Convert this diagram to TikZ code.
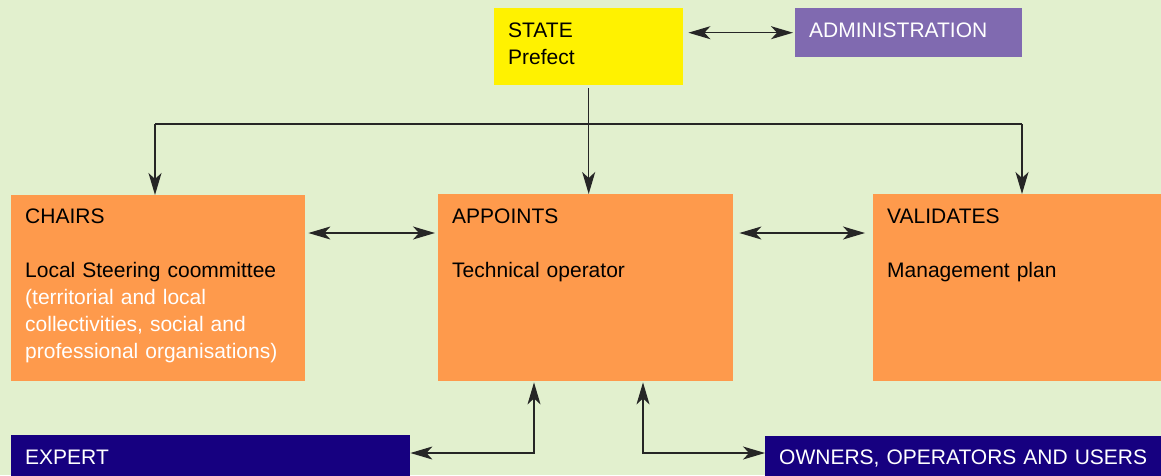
\documentclass[tikz,border=0pt]{standalone}
\usepackage{fontspec}
\setmainfont{Liberation Sans}
\usetikzlibrary{arrows.meta}
\definecolor{bgcol}{RGB}{226,240,206}
\definecolor{boxorange}{RGB}{254,154,76}
\definecolor{boxpurple}{RGB}{128,106,176}
\definecolor{boxnavy}{RGB}{22,0,128}
\tikzset{
  box/.style={anchor=north west,inner sep=0},
  boxtext/.style={anchor=base west,inner sep=0,align=left,text width=#1,font=\fontsize{21}{27}\selectfont},
  boxtext/.default=285pt,
  link/.style={draw=black!85,line width=1.3pt,>={Stealth[length=22pt,width=13pt,inset=6pt]}}
}
\begin{document}
\begin{tikzpicture}[x=1pt,y=-1pt]
\useasboundingbox (0,0) rectangle (1161,475);
\clip (0,0) rectangle (1161,475);
\fill[bgcol] (0,0) rectangle (1161,475);
\node[box,fill=yellow,minimum width=189pt,minimum height=77pt] (state) at (494,8) {};
\node[box,fill=boxpurple,minimum width=227pt,minimum height=49pt] (admin) at (795,8) {};
\node[box,fill=boxorange,minimum width=294pt,minimum height=186pt] (chairs) at (11,195) {};
\node[box,fill=boxorange,minimum width=295pt,minimum height=187pt] (appoints) at (438,194) {};
\node[box,fill=boxorange,minimum width=294pt,minimum height=187pt] (validates) at (873,194) {};
\node[box,fill=boxnavy,minimum width=399pt,minimum height=50pt] (expert) at (11,435) {};
\node[box,fill=boxnavy,minimum width=399pt,minimum height=50pt] (owners) at (765,436) {};
\node[boxtext] (statetxt) at ([xshift=14pt,yshift=-29pt]state.north west) {STATE\\Prefect};
\node[boxtext,text=white] (admintxt) at ([xshift=14pt,yshift=-29pt]admin.north west) {ADMINISTRATION};
\node[boxtext] (chairstxt) at ([xshift=14pt,yshift=-28pt]chairs.north west) {CHAIRS\\[27pt]Local Steering coommittee\\\textcolor{white}{(territorial and local}\\\textcolor{white}{collectivities, social and}\\\textcolor{white}{professional organisations)}};
\node[boxtext] (appointstxt) at ([xshift=14pt,yshift=-29pt]appoints.north west) {APPOINTS\\[27pt]Technical operator};
\node[boxtext] (validatestxt) at ([xshift=14pt,yshift=-29pt]validates.north west) {VALIDATES\\[27pt]Management plan};
\node[boxtext,text=white] (experttxt) at ([xshift=14pt,yshift=-29pt]expert.north west) {EXPERT};
\node[boxtext=380pt,text=white] (ownerstxt) at ([xshift=14pt,yshift=-28pt]owners.north west) {OWNERS, OPERATORS AND USERS};
\draw[link,<->,shorten <=5pt,shorten >=2pt] (state.east |- admin.west) -- (admin.west);
\draw[link,->,shorten <=3pt] (state.south) -- (state.south |- appoints.north);
\coordinate (busL) at (155,124);
\coordinate (busR) at (1022,124);
\draw[link] (busL) -- (busR);
\draw[link,->] (busL) -- (busL |- chairs.north);
\draw[link,->] (busR) -- (busR |- validates.north);
\draw[link,<->,shorten <=3pt,shorten >=3pt] ([yshift=-38pt]chairs.north east) -- ([yshift=-39pt]appoints.north west);
\draw[link,<->,shorten <=6pt,shorten >=8pt] ([yshift=-39pt]appoints.north east) -- ([yshift=-39pt]validates.north west);
\coordinate (expcorner) at (534,453);
\draw[link,<->,shorten >=1pt] (expert.east |- expcorner) -- (expcorner) -- (expcorner |- appoints.south);
\coordinate (owncorner) at (643,453);
\draw[link,<->,shorten <=1pt] (owncorner |- appoints.south) -- (owncorner) -- (owners.west |- owncorner);
\end{tikzpicture}
\end{document}
